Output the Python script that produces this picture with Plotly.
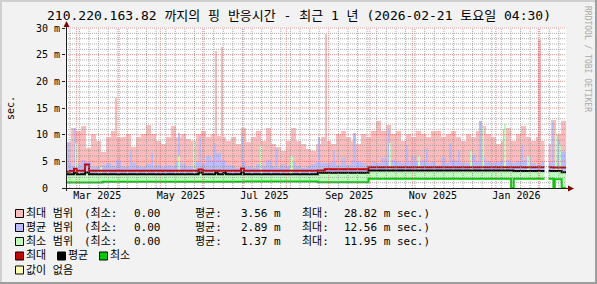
import plotly.graph_objects as go
import pandas as pd

# ---------------- data ----------------
t_start = "2025-02-21 04:30"
t_end = "2026-02-21 04:30"

# typical top of the max-range (pink) per bin (100 equal bins over the year), ms
pink_top = [8.7, 11.2, 10.7, 11.6, 7.5, 10.1, 8.9, 6.7, 9.5, 10.7,
            9.5, 9.5, 10.1, 7.6, 9.5, 10.2, 11.9, 10.1, 8.9, 8.2,
            9.5, 11.6, 9.5, 10.2, 9.2, 8.9, 10.1, 10.7, 9.5, 10.1,
            9.7, 9.5, 8.9, 9.5, 8.2, 11.2, 8.6, 9.5, 10.7, 8.9,
            11.2, 8.2, 7.6, 7.0, 8.9, 11.2, 8.9, 8.2, 7.3, 7.0,
            8.2, 9.5, 8.9, 8.2, 10.1, 10.7, 9.5, 8.9, 8.2, 10.1,
            9.5, 10.7, 12.6, 10.7, 11.9, 10.1, 10.7, 8.9, 10.1, 9.5,
            10.7, 10.1, 9.5, 10.7, 10.7, 9.5, 10.1, 10.7, 9.5, 8.9,
            10.1, 9.5, 10.7, 11.6, 10.1, 9.5, 8.2, 8.9, 11.2, 8.9,
            10.1, 11.6, 9.5, 8.9, 9.5, 8.9, 8.2, 12.8, 10.2, 12.6]

# typical top of the average-range (lavender) per bin, ms
blue_top = [4.6, 4.2, 4.5, 5.2, 4.8, 4.0, 3.9, 4.3, 4.6, 4.1,
            5.2, 4.2, 4.0, 4.6, 4.2, 3.9, 4.5, 4.1, 4.4, 4.0,
            4.4, 4.1, 4.9, 4.5, 4.2, 3.9, 4.9, 4.5, 6.0, 5.2,
            6.5, 5.2, 4.4, 4.1, 3.8, 4.9, 4.2, 3.7, 4.5, 4.1,
            5.2, 4.1, 3.8, 4.5, 4.2, 4.9, 4.2, 3.8, 4.1, 4.5,
            4.9, 4.6, 4.6, 5.0, 4.3, 5.6, 4.3, 5.2, 5.0, 4.6,
            4.4, 5.0, 4.6, 5.6, 5.2, 5.2, 5.0, 4.6, 5.0, 6.0,
            5.0, 5.2, 4.6, 5.0, 4.4, 5.6, 4.6, 5.2, 5.0, 4.6,
            4.6, 6.2, 5.0, 5.6, 5.0, 4.6, 5.0, 5.2, 5.2, 4.6,
            5.0, 5.2, 5.6, 4.6, 4.4, 5.0, 4.6, 5.0, 6.0, 6.8]

# single-day spikes
pink_spike_dates = ["2025-03-30", "2025-06-11", "2025-06-15", "2025-08-30", "2026-02-02"]
pink_spike_vals = [16.9, 25.6, 26.5, 28.82, 27.7]

blue_spike_dates = ["2025-02-23", "2025-02-28", "2025-04-10", "2025-04-25", "2025-05-15",
                    "2025-05-30", "2025-06-10", "2025-06-30", "2025-07-25", "2025-08-25",
                    "2025-09-05", "2025-09-20", "2025-10-15", "2025-10-28", "2025-11-12",
                    "2025-11-29", "2025-12-05", "2025-12-21", "2026-01-07", "2026-01-20",
                    "2026-02-12", "2026-02-16"]
blue_spike_vals = [8.7, 11.2, 7.0, 6.5, 10.3, 9.6, 8.5, 9.6, 7.5, 9.6,
                   7.0, 10.3, 10.9, 8.0, 7.5, 8.4, 7.0, 12.56, 11.0, 8.0,
                   12.4, 9.0]

green_spike_dates = ["2025-03-01", "2025-03-19", "2025-05-15", "2025-05-26", "2025-07-14",
                     "2025-08-05", "2025-10-16", "2025-11-06", "2025-12-14", "2025-12-23",
                     "2026-01-08", "2026-01-25", "2026-02-14", "2026-02-17"]
green_spike_vals = [8.5, 4.0, 6.0, 9.0, 7.8, 6.0, 8.4, 6.0, 7.0, 11.5,
                    11.95, 6.0, 10.3, 8.0]

# step lines (average of max / average of avg / average of min)
line_dates = ["2025-02-21 04:30", "2025-02-24", "2025-02-27", "2025-03-01", "2025-03-07",
              "2025-03-10", "2025-03-20", "2025-05-29", "2025-06-01", "2025-06-10",
              "2025-06-12", "2025-06-16", "2025-06-18", "2025-06-29", "2025-07-01",
              "2025-08-24", "2025-08-29", "2025-09-30", "2026-01-12", "2026-01-14",
              "2026-02-12", "2026-02-13", "2026-02-18", "2026-02-21 04:30"]
max_line = [3.05, 3.2, 3.6, 3.25, 4.4, 3.25, 3.25, 3.45, 3.25, 3.25,
            3.25, 3.25, 3.25, 3.65, 3.25, 3.3, 3.5, 3.9, 3.9, 3.9,
            3.85, 3.85, 3.85, 3.85]
avg_line = [2.6, 2.6, 2.85, 2.6, 2.9, 2.6, 2.6, 2.9, 2.6, 2.85,
            2.6, 2.85, 2.6, 2.9, 2.6, 2.85, 2.85, 3.27, 3.27, 3.2,
            3.2, 3.2, 2.95, 2.95]
min_line = [1.05, 1.05, 1.05, 1.05, 1.05, 1.05, 1.15, 1.15, 1.15, 1.15,
            1.15, 1.15, 1.15, 1.15, 1.2, 1.1, 1.1, 1.75, 0.0, 1.75,
            0.0, 1.65, 0.0, 0.0]

gap_dates = ["2026-02-05 12:00", "2026-02-08 12:00"]

y_range = [0, 30]
ytick_vals = [0, 5, 10, 15, 20, 25, 30]
ytick_text = ["0\u00a0\u00a0", "5 m", "10 m", "15 m", "20 m", "25 m", "30 m"]
xtick_vals = ["2025-03-16", "2025-05-16", "2025-07-16", "2025-09-16", "2025-11-16", "2026-01-16"]
xtick_text = ["Mar 2025", "May 2025", "Jul 2025", "Sep 2025", "Nov 2025", "Jan 2026"]

legend_labels = ["최대 범위", "평균 범위", "최소 범위"]
legend_min = ["0.00", "0.00", "0.00"]
legend_avg = ["3.56 m", "2.89 m", "1.37 m"]
legend_max = ["28.82 m sec.)", "12.56 m sec.)", "11.95 m sec.)"]

title_text = "210.220.163.82 까지의 핑 반응시간 - 최근 1 년 (2026-02-21 토요일 04:30)"

# ---------------- style ----------------
PINK = "#FFBBBB"
BLUE = "#BBBBFF"
LGREEN = "#BBFFBB"
RED = "#CC0000"
GREEN = "#00CC00"
BACK = "#F2F2F2"
MONO = "DejaVu Sans Mono, Noto Sans CJK KR, monospace"

W_PX, H_PX = 597, 284
L, R_EDGE = 66, 566
TOP, BOT = 27, 188
PW = R_EDGE - L
PH = BOT - TOP
y_top = y_range[1] * PH / (BOT - 28)


def px(x):
    return (x - L) / PW


def py(y):
    return (BOT - y) / PH


def dt(lst):
    return pd.to_datetime(lst, format="ISO8601")


t0 = pd.Timestamp(t_start)
t1 = pd.Timestamp(t_end)
edges = pd.date_range(t0, t1, periods=len(pink_top) + 1)
step = edges[1] - edges[0]
centers = edges[:-1] + step / 2
bin_ms = step.total_seconds() * 1000
spike_ms = 1.2 * 86400 * 1000

fig = go.Figure()

fig.add_trace(go.Bar(x=centers, y=pink_top, width=bin_ms, marker=dict(color=PINK, line=dict(width=0))))
fig.add_trace(go.Bar(x=dt(pink_spike_dates), y=pink_spike_vals, width=spike_ms,
                     marker=dict(color=PINK, line=dict(width=0))))
fig.add_trace(go.Bar(x=centers, y=blue_top, width=bin_ms, marker=dict(color=BLUE, line=dict(width=0))))
fig.add_trace(go.Bar(x=dt(blue_spike_dates), y=blue_spike_vals, width=spike_ms,
                     marker=dict(color=BLUE, line=dict(width=0))))
fig.add_trace(go.Bar(x=dt(green_spike_dates), y=green_spike_vals, width=spike_ms,
                     marker=dict(color=LGREEN, line=dict(width=0))))

ld = dt(line_dates)
# min-avg band
fig.add_trace(go.Scatter(x=ld, y=min_line, mode="lines", line=dict(width=0, shape="hv"),
                         hoverinfo="skip"))
fig.add_trace(go.Scatter(x=ld, y=avg_line, mode="lines", line=dict(width=0, shape="hv"),
                         fill="tonexty", fillcolor=LGREEN, hoverinfo="skip"))
# white below min
fig.add_trace(go.Scatter(x=ld, y=min_line, mode="lines", line=dict(width=0, shape="hv"),
                         fill="tozeroy", fillcolor="white", hoverinfo="skip"))
# lines
fig.add_trace(go.Scatter(x=ld, y=max_line, mode="lines", line=dict(color=RED, width=2, shape="hv")))
fig.add_trace(go.Scatter(x=ld, y=avg_line, mode="lines", line=dict(color="black", width=2, shape="hv")))
fig.add_trace(go.Scatter(x=ld, y=min_line, mode="lines", line=dict(color=GREEN, width=2, shape="hv")))

# no-data gap
g = dt(gap_dates)
fig.add_trace(go.Scatter(x=[g[0], g[0], g[1], g[1], g[0]],
                         y=[y_range[0], y_top, y_top, y_range[0], y_range[0]],
                         mode="lines", fill="toself", fillcolor="white", line=dict(width=0)))

# grid drawn over the data (rrdtool style)
gx_minor, gy_minor, gx_major, gy_major = [], [], [], []
for v in range(1, 30):
    if v % 5:
        gx_minor += [t0, t1, None]
        gy_minor += [v, v, None]
for v in range(5, 31, 5):
    gx_major += [t0, t1, None]
    gy_major += [v, v, None]
months = pd.date_range(t0.normalize(), t1, freq="MS")
month_set = set(months)
weeks = pd.date_range(t0.normalize(), t1, freq="W-MON")
for d in weeks:
    if d > t0 and d not in month_set:
        gx_minor += [d, d, None]
        gy_minor += [0, 30, None]
for d in months:
    if d > t0:
        gx_major += [d, d, None]
        gy_major += [0, 30, None]
fig.add_trace(go.Scatter(x=gx_minor, y=gy_minor, mode="lines",
                         line=dict(color="rgba(143,143,143,0.75)", width=1, dash="1px,1px")))
fig.add_trace(go.Scatter(x=gx_major, y=gy_major, mode="lines",
                         line=dict(color="rgba(222,79,79,0.6)", width=1, dash="1px,1px")))

shapes = []
# frame
shapes.append(dict(type="rect", xref="paper", yref="paper", x0=px(0), x1=px(597), y0=py(0), y1=py(2),
                   fillcolor="#CFCFCF", line=dict(width=0), layer="below"))
shapes.append(dict(type="rect", xref="paper", yref="paper", x0=px(0), x1=px(2), y0=py(0), y1=py(284),
                   fillcolor="#CFCFCF", line=dict(width=0), layer="below"))
shapes.append(dict(type="rect", xref="paper", yref="paper", x0=px(0), x1=px(597), y0=py(282), y1=py(284),
                   fillcolor="#9E9E9E", line=dict(width=0)))
shapes.append(dict(type="rect", xref="paper", yref="paper", x0=px(595), x1=px(597), y0=py(0), y1=py(284),
                   fillcolor="#9E9E9E", line=dict(width=0)))
# axes
shapes.append(dict(type="line", xref="paper", yref="paper", x0=px(62), x1=px(569), y0=py(188.5), y1=py(188.5),
                   line=dict(color="#202020", width=1)))
shapes.append(dict(type="line", xref="paper", yref="paper", x0=px(66.5), x1=px(66.5), y0=py(191), y1=py(25),
                   line=dict(color="#202020", width=1)))
shapes.append(dict(type="path", xref="paper", yref="paper",
                   path=f"M {px(63.5)},{py(27)} L {px(69.5)},{py(27)} L {px(66.5)},{py(21)} Z",
                   fillcolor="#7F0000", line=dict(width=0)))
shapes.append(dict(type="path", xref="paper", yref="paper",
                   path=f"M {px(568)},{py(185.5)} L {px(568)},{py(191.5)} L {px(574)},{py(188.5)} Z",
                   fillcolor="#7F0000", line=dict(width=0)))

annotations = []


def txt(x, y, s, size=11, anchor="left", color="black", angle=0):
    annotations.append(dict(x=px(x), y=py(y), xref="paper", yref="paper", text=s, showarrow=False,
                            xanchor=anchor, yanchor="middle", textangle=angle,
                            font=dict(family=MONO, size=size, color=color)))


txt(298.5, 15.5, title_text, size=13, anchor="center")
txt(11, 108, "sec.", size=10, anchor="center", angle=-90)
txt(588, 59, "RRDTOOL / TOBI OETIKER", size=8, anchor="center", color="#AAAAAA", angle=90)

rows_y = [213.5, 227.5, 241.5]
box_cols = [PINK, BLUE, LGREEN]
for i in range(3):
    yy = rows_y[i]
    shapes.append(dict(type="rect", xref="paper", yref="paper", x0=px(15.5), x1=px(23.5),
                       y0=py(yy - 4), y1=py(yy + 4), fillcolor=box_cols[i], line=dict(color="black", width=1)))
    txt(24, yy, legend_labels[i])
    txt(82, yy, "(최소:")
    txt(163, yy, legend_min[i], anchor="right")
    txt(193, yy, "평균:")
    txt(283, yy, legend_avg[i], anchor="right")
    txt(300, yy, "최대:")
    txt(342, yy, legend_max[i])

y4 = 256
for bx, col, lab in [(15.5, RED, "최대"), (57.5, "black", "평균"), (99.5, GREEN, "최소")]:
    shapes.append(dict(type="rect", xref="paper", yref="paper", x0=px(bx), x1=px(bx + 8),
                       y0=py(y4 - 4), y1=py(y4 + 4), fillcolor=col, line=dict(color="black", width=1)))
    txt(bx + 8.5, y4, lab)
y5 = 270
shapes.append(dict(type="rect", xref="paper", yref="paper", x0=px(15.5), x1=px(23.5),
                   y0=py(y5 - 4), y1=py(y5 + 4), fillcolor="#FFFFAA", line=dict(color="black", width=1)))
txt(24, y5, "값이 없음")

fig.update_layout(
    width=W_PX, height=H_PX, autosize=False,
    margin=dict(l=L, r=W_PX - R_EDGE, t=TOP, b=H_PX - BOT, pad=0),
    paper_bgcolor=BACK, plot_bgcolor="white",
    barmode="overlay", bargap=0, showlegend=False,
    shapes=shapes, annotations=annotations,
    xaxis=dict(type="date", range=[t0, t1], tickmode="array", tickvals=dt(xtick_vals),
               ticktext=xtick_text, ticks="", showgrid=False, zeroline=False, showline=False,
               tickfont=dict(family=MONO, size=10, color="black"), fixedrange=True),
    yaxis=dict(range=[y_range[0], y_top], tickmode="array", tickvals=ytick_vals, ticktext=ytick_text,
               ticks="outside", ticklen=3, tickcolor="#202020", showgrid=False, zeroline=False,
               showline=False, tickfont=dict(family=MONO, size=10, color="black"), fixedrange=True),
)

fig.write_html("out.html")
